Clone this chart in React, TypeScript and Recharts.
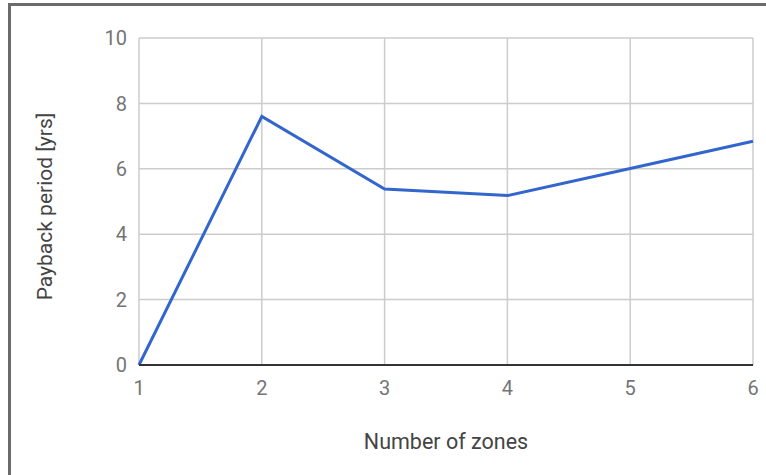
import React from 'react';
import { LineChart, Line, XAxis, YAxis, CartesianGrid, Label } from 'recharts';

const zones = [1, 2, 3, 4, 5, 6];
const payback = [0, 7.6, 5.38, 5.18, 6.01, 6.84];
const yTicks = [0, 2, 4, 6, 8, 10];

const data = zones.map((z, i) => ({ zones: z, payback: payback[i] }));

const FONT = 'Roboto, "Noto Sans", sans-serif';

// rotated title, centred on the y axis band
const YTitle = (props: any) => {
  const vb = props.viewBox || {};
  const cx = vb.x + 45;
  const cy = vb.y + vb.height / 2 + 5;
  return (
    <text
      x={cx}
      y={cy}
      transform={`rotate(-90, ${cx}, ${cy})`}
      textAnchor="middle"
      dominantBaseline="central"
      fill="#444"
      fontSize={21}
      fontFamily={FONT}
    >
      Payback period [yrs]
    </text>
  );
};

const App: React.FC = () => {
  return (
    <div style={{ position: 'fixed', left: 0, top: 0, width: 766, height: 475, background: '#fff' }}>
      <div
        style={{
          position: 'absolute',
          left: 8,
          top: 3,
          right: 0,
          bottom: 0,
          borderLeft: '3px solid #6b6b6b',
          borderTop: '3px solid #6b6b6b',
        }}
      />
      <LineChart
        width={766}
        height={475}
        data={data}
        margin={{ top: 38, right: 13, bottom: 0, left: 0 }}
        style={{ position: 'absolute', left: 0, top: 0 }}
      >
        <CartesianGrid stroke="#cccccc" strokeWidth={1.5} />
        <XAxis
          dataKey="zones"
          type="number"
          domain={[1, 6]}
          ticks={zones}
          height={110}
          tickLine={false}
          tickSize={0}
          tickMargin={16}
          axisLine={{ stroke: '#333', strokeWidth: 2 }}
          tick={{ fill: '#757575', fontSize: 20, fontFamily: FONT }}
        >
          <Label
            value="Number of zones"
            position="insideBottom"
            offset={26}
            fill="#444"
            fontSize={21.5}
            fontFamily={FONT}
          />
        </XAxis>
        <YAxis
          type="number"
          domain={[0, 10]}
          ticks={yTicks}
          width={139}
          axisLine={false}
          tickLine={false}
          tickSize={0}
          tickMargin={12}
          tick={{ fill: '#757575', fontSize: 20, fontFamily: FONT }}
        >
          <Label content={YTitle} />
        </YAxis>
        <Line
          type="linear"
          dataKey="payback"
          stroke="#3366cc"
          strokeWidth={3}
          dot={false}
          activeDot={false}
          isAnimationActive={false}
        />
      </LineChart>
    </div>
  );
};

export default App;
